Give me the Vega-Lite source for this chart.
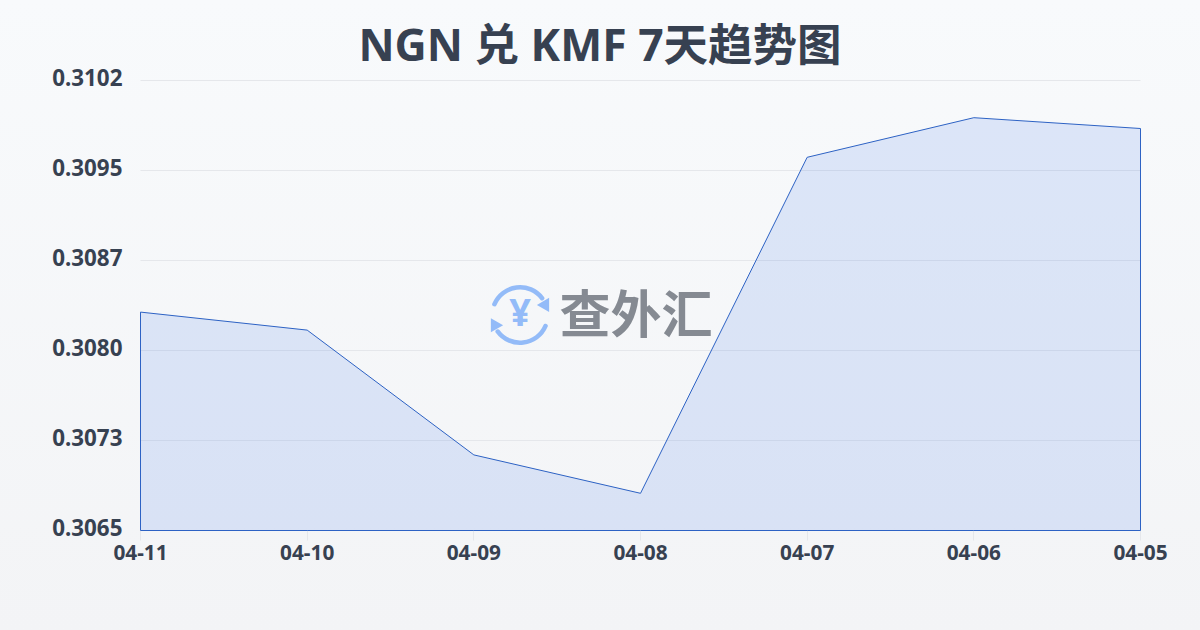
{
"$schema":"https://vega.github.io/schema/vega-lite/v6.json",
"width":1200,"height":630,
"autosize":{"type":"none"},
"padding":0,
"view":{"stroke":null,"fill":{"gradient":"linear","x1":0,"y1":0,"x2":0,"y2":1,"stops":[{"offset":0,"color":"#f8fafc"},{"offset":1,"color":"#f3f4f6"}]}},
"title":{"text":"NGN 兑 KMF 7天趋势图","anchor":"middle","fontSize":44.5,"fontWeight":"bold","color":"#374151","font":"Noto Sans, Noto Sans CJK SC","offset":-70},
"data":{"values":[
{"date":"04-11","rate":0.30832},
{"date":"04-10","rate":0.30817},
{"date":"04-09","rate":0.30713},
{"date":"04-08","rate":0.30681},
{"date":"04-07","rate":0.30961},
{"date":"04-06","rate":0.30994},
{"date":"04-05","rate":0.30985}
]},
"layer":[
{"data":{"values":[
{"tick":0.30725,"from":"04-11","to":"04-05"},
{"tick":0.308,"from":"04-11","to":"04-05"},
{"tick":0.30875,"from":"04-11","to":"04-05"},
{"tick":0.3095,"from":"04-11","to":"04-05"},
{"tick":0.31025,"from":"04-11","to":"04-05"}
]},
"mark":{"type":"rule","color":"#e5e7eb","strokeWidth":1,"xOffset":0.5,"x2Offset":0.5},
"encoding":{
"x":{"field":"from","type":"ordinal","scale":{"type":"point","padding":0,"range":[140,1140],"domain":["04-11","04-10","04-09","04-08","04-07","04-06","04-05"]},"axis":{"title":null,"offset":-100,"labelFont":"Noto Sans","labelFontSize":20.8,"labelFontWeight":"bold","labelColor":"#374151","labelAngle":0,"labelAlign":"center","labelBaseline":"top","labelPadding":3,"labelOverlap":false,"ticks":true,"tickColor":"#e5e7eb","tickSize":10,"domain":false,"grid":false}},
"x2":{"field":"to"},
"y":{"field":"tick","type":"quantitative","scale":{"domain":[0.3065,0.31025],"nice":false,"zero":false,"range":[530.5,80.5]},"axis":{"title":null,"offset":-140,"values":[0.3065,0.30725,0.308,0.308749,0.3095,0.310249],"format":".4f","labelFont":"Noto Sans","labelFontSize":22.4,"labelFontWeight":"bold","labelColor":"#374151","labelPadding":18,"labelOffset":-2,"labelOverlap":false,"ticks":false,"domain":false,"grid":false}}
}},
{"mark":{"type":"area","fill":"#2563eb","fillOpacity":0.13,"stroke":"#2d62c4","strokeWidth":1,"strokeOpacity":1,"xOffset":0.5},
"encoding":{
"x":{"field":"date","type":"ordinal","sort":null},
"y":{"field":"rate","type":"quantitative"},
"y2":{"datum":0.3065}
}},
{"data":{"values":[{"date":"04-08","rate":0.308267,"label":"查外汇"}]},
"mark":{"type":"text","font":"Noto Sans CJK SC","fontWeight":"bold","fontSize":51,"color":"#858a92","xOffset":-4,"align":"center","baseline":"middle"},
"encoding":{"x":{"field":"date","type":"ordinal","sort":null},"y":{"field":"rate","type":"quantitative"},"text":{"field":"label"}}},
{"data":{"values":[{"date":"04-08","rate":0.308296,"label":"¥"}]},
"mark":{"type":"text","font":"Noto Sans","fontWeight":"bold","fontSize":38,"color":"#93bbf8","xOffset":-120,"align":"center","baseline":"middle"},
"encoding":{"x":{"field":"date","type":"ordinal","sort":null},"y":{"field":"rate","type":"quantitative"},"text":{"field":"label"}}},
{"data":{"values":[{"date":"04-08","rate":0.308296}]},
"mark":{"type":"arc","innerRadius":25.5,"outerRadius":30,"theta":-1.25,"theta2":1.0,"color":"#93bbf8","xOffset":-120,"cornerRadius":2},
"encoding":{"x":{"field":"date","type":"ordinal","sort":null},"y":{"field":"rate","type":"quantitative"}}},
{"data":{"values":[{"date":"04-08","rate":0.308296}]},
"mark":{"type":"arc","innerRadius":25.5,"outerRadius":30,"theta":1.9,"theta2":4.15,"color":"#93bbf8","xOffset":-120,"cornerRadius":2},
"encoding":{"x":{"field":"date","type":"ordinal","sort":null},"y":{"field":"rate","type":"quantitative"}}},
{"data":{"values":[{"date":"04-08","rate":0.30838}]},
"mark":{"type":"point","shape":"triangle-left","filled":true,"size":200,"opacity":1,"color":"#93bbf8","xOffset":-97},
"encoding":{"x":{"field":"date","type":"ordinal","sort":null},"y":{"field":"rate","type":"quantitative"}}},
{"data":{"values":[{"date":"04-08","rate":0.30821}]},
"mark":{"type":"point","shape":"triangle-right","filled":true,"size":200,"opacity":1,"color":"#93bbf8","xOffset":-143},
"encoding":{"x":{"field":"date","type":"ordinal","sort":null},"y":{"field":"rate","type":"quantitative"}}}
]
}
